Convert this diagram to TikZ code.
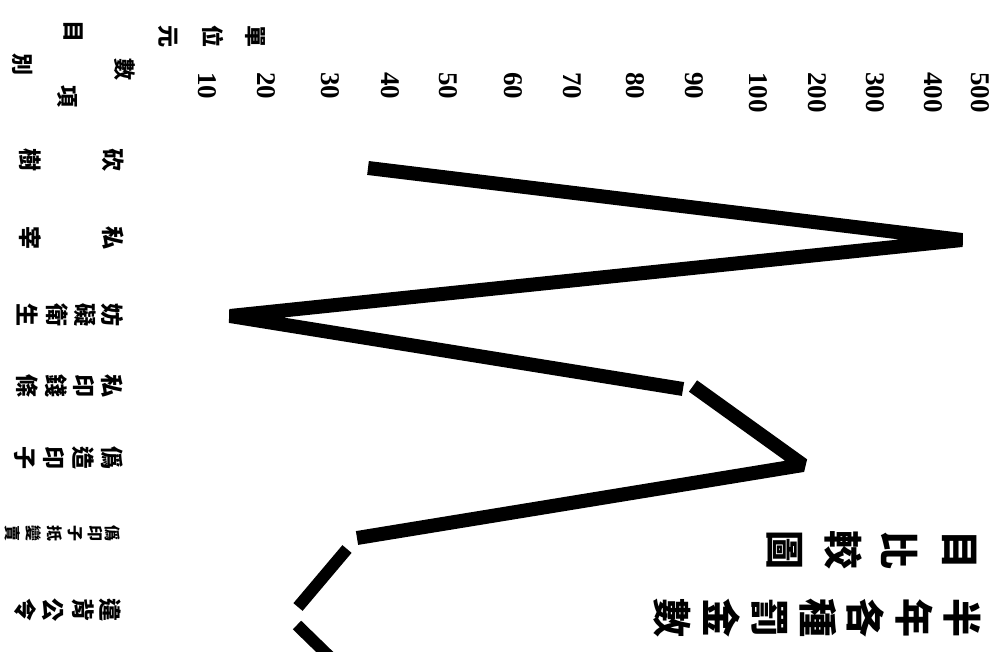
\documentclass[tikz,border=0pt]{standalone}
\usepackage{fontspec}
\setmainfont{Liberation Serif}
\newfontfamily\cjk{Noto Sans CJK TC}
\begin{document}
\begin{tikzpicture}[x=1pt,y=-1pt,
  num/.style={font=\bfseries\fontsize{27}{27}\selectfont, rotate=-90, anchor=west, inner sep=0pt},
  item/.style={font=\cjk\bfseries\fontsize{23}{23}\selectfont, rotate=-90, inner sep=0pt},
  small/.style={font=\cjk\bfseries\fontsize{16}{16}\selectfont, rotate=-90, inner sep=0pt},
  head/.style={font=\cjk\bfseries\fontsize{22}{22}\selectfont, rotate=-90, inner sep=0pt},
  ttl/.style={font=\cjk\bfseries\fontsize{39}{39}\selectfont, rotate=-90, inner sep=0pt},
  plot/.style={line width=14pt, line join=bevel, line cap=butt}]
\useasboundingbox (0,0) rectangle (996,652);
% value labels
\foreach \x/\v [count=\i] in {207/10,266/20,330/30,390/40,448/50,513/60,572/70,635/80,694/90,758/100,817/200,875/300,933/400,980/500}
  \node[num] (v\i) at (\x,72) {\v};
% header
\node[head] (h1) at (255,37) {單};
\node[head] (h2) at (213,37) {位};
\node[head] (h3) at (168,37) {元};
\node[head] (h4) at (73,32) {目};
\node[head] (h5) at (125,70) {數};
\node[head] (h6) at (23,65) {別};
\node[head] (h7) at (67,97) {項};
% item labels
\foreach \x/\c [count=\i] in {113/砍,30/樹} \node[item] (a\i) at (\x,160) {\c};
\foreach \x/\c [count=\i] in {113/私,30/宰} \node[item] (b\i) at (\x,238) {\c};
\foreach \x/\c [count=\i] in {112/妨,85/礙,57/衛,28/生} \node[item] (c\i) at (\x,315) {\c};
\foreach \x/\c [count=\i] in {112/私,84/印,56/錢,27/條} \node[item] (d\i) at (\x,386) {\c};
\foreach \x/\c [count=\i] in {112/僞,83/造,54/印,25/子} \node[item] (e\i) at (\x,458) {\c};
\foreach \x/\c [count=\i] in {113/僞,95/印,75/子,55/抵,34/變,13/賣} \node[small] (f\i) at (\x,533) {\c};
\foreach \x/\c [count=\i] in {110/違,83/背,53/公,25/令} \node[item] (g\i) at (\x,610) {\c};
% title
\foreach \x/\c [count=\i] in {962/半,914/年,866/各,818/種,770/罰,722/金,672/數} \node[ttl] (t\i) at (\x,618) {\c};
\foreach \x/\c [count=\i] in {960/目,900/比,843/較,785/圖} \node[ttl] (s\i) at (\x,550) {\c};
% plot
\coordinate (A) at (368,168);
\coordinate (B) at (962,240);
\coordinate (C) at (230,316);
\coordinate (D1) at (683,389);
\coordinate (D2) at (693,386);
\coordinate (E) at (803,465);
\coordinate (F) at (357,538);
\coordinate (G1) at (347,549);
\coordinate (G2) at (298,607);
\coordinate (H1) at (297,625);
\coordinate (H2) at (335,662);
\draw[plot] (A) -- (B) -- (C) -- (D1);
\draw[plot] (D2) -- (E) -- (F);
\draw[line width=12pt] (G1) -- (G2);
\draw[line width=12pt] (H1) -- (H2);
\end{tikzpicture}
\end{document}
